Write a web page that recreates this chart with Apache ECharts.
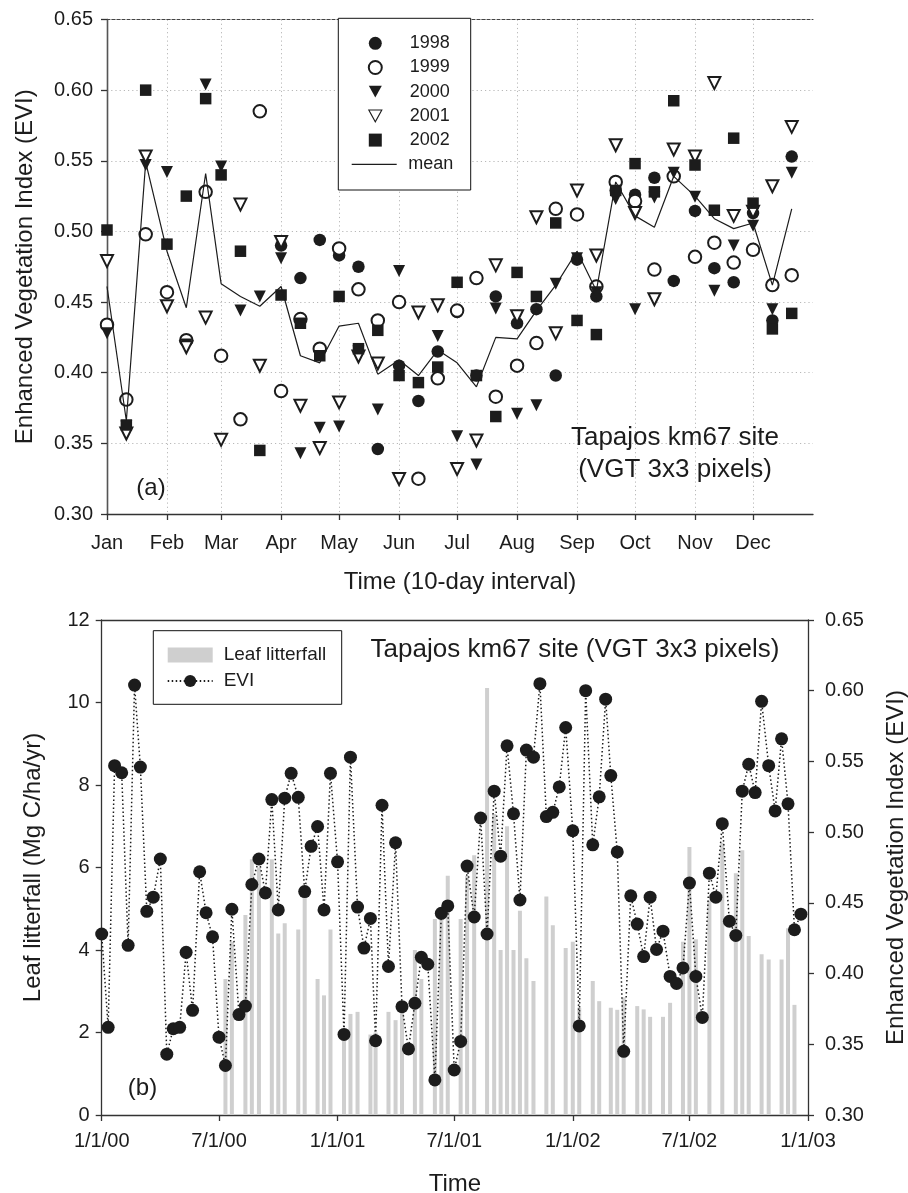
<!DOCTYPE html>
<html><head><meta charset="utf-8">
<script src="https://cdn.jsdelivr.net/npm/echarts@6/dist/echarts.min.js"></script>
<style>html,body{margin:0;padding:0;background:#fff}#c{width:908px;height:1193px}</style>
</head><body><div id="c"></div><script>
// ---------- data ----------
const monthLabels = ['Jan','Feb','Mar','Apr','May','Jun','Jul','Aug','Sep','Oct','Nov','Dec'];
const dekadStarts = ['01-01','01-11','01-21','02-01','02-11','02-21','03-01','03-11','03-21','04-01','04-11','04-21',
  '05-01','05-11','05-21','06-01','06-11','06-21','07-01','07-11','07-21','08-01','08-11','08-21',
  '09-01','09-11','09-21','10-01','10-11','10-21','11-01','11-11','11-21','12-01','12-11','12-21'];
const evi1998 = [null,null,null,null,null,null,null,null,null,0.490,0.467,0.494,0.483,0.475,0.346,0.405,0.380,0.415,
  0.443,0.398,0.454,0.435,0.445,0.398,0.480,0.454,0.529,0.526,0.538,0.465,0.5145,0.474,0.464,0.513,0.437,0.553];
const evi1999 = [0.434,0.381,0.498,0.457,0.423,0.528,0.412,0.367,0.585,0.387,0.438,0.417,0.488,0.459,0.437,0.450,0.325,0.396,
  0.444,0.467,0.383,0.405,0.421,0.516,0.512,0.461,0.535,0.5215,0.473,0.539,0.482,0.492,0.478,0.487,0.462,0.469];
const evi2000 = [0.428,0.362,0.547,0.542,0.420,0.604,0.546,0.444,0.454,0.481,0.343,0.361,0.362,0.415,0.374,0.472,0.443,0.426,
  0.355,0.335,0.4455,0.371,0.377,0.463,0.481,0.457,0.523,0.445,0.524,0.5416,0.5246,0.458,0.490,0.504,0.445,0.5416];
const evi2001 = [0.479,0.357,0.553,0.447,0.418,0.439,0.3525,0.519,0.405,0.4925,0.3766,0.3467,0.379,0.4115,0.4066,0.3248,0.4426,0.4478,
  0.3318,0.352,0.476,0.440,0.510,0.428,0.529,0.483,0.561,0.513,0.452,0.558,0.553,0.605,0.511,0.514,0.532,0.574];
const evi2002 = [0.501,0.363,0.600,0.491,0.525,0.594,0.540,0.486,0.345,0.455,0.435,0.412,0.454,0.417,0.430,0.398,0.393,0.404,
  0.464,0.398,0.369,0.471,0.454,0.506,0.437,0.427,0.529,0.548,0.528,0.5925,0.547,0.515,0.566,0.520,0.431,0.442];
const eviMean = [0.461,0.366,0.549,0.486,0.446,0.541,0.463,0.454,0.447,0.461,0.412,0.407,0.433,0.435,0.399,0.409,0.398,0.416,
  0.407,0.390,0.425,0.424,0.444,0.462,0.486,0.458,0.535,0.511,0.503,0.539,0.525,0.509,0.502,0.506,0.462,0.516];
const yTickLabelsTop = ['0.30','0.35','0.40','0.45','0.50','0.55','0.60','0.65'];
const timeTickLabels = ['1/1/00','7/1/00','1/1/01','7/1/01','1/1/02','7/1/02','1/1/03'];
const litterDates = ['2000-07-11','2000-07-21','2000-08-11','2000-08-21','2000-09-01','2000-09-21','2000-10-01','2000-10-11',
  '2000-11-01','2000-11-11','2000-12-01','2000-12-11','2000-12-21',
  '2001-01-11','2001-01-21','2001-02-01','2001-02-21','2001-03-01','2001-03-21','2001-04-01','2001-04-11','2001-05-01','2001-05-11',
  '2001-06-01','2001-06-11','2001-06-21','2001-07-11','2001-07-21','2001-08-01','2001-08-21','2001-09-01','2001-09-11','2001-09-21',
  '2001-10-01','2001-10-11','2001-10-21','2001-11-01','2001-11-21','2001-12-01','2001-12-21',
  '2002-01-01','2002-01-11','2002-02-01','2002-02-11','2002-03-01','2002-03-11','2002-03-21','2002-04-11','2002-04-21','2002-05-01',
  '2002-05-21','2002-06-01','2002-06-21','2002-07-01','2002-07-11','2002-08-01','2002-08-21','2002-09-11','2002-09-21','2002-10-01',
  '2002-10-21','2002-11-01','2002-11-21','2002-12-01','2002-12-11'];
const litterValues = [3.3,4.2,4.85,6.2,6.0,6.2,4.4,4.65,
  4.5,5.4,3.3,2.9,4.5,
  2.0,2.45,2.5,1.95,2.0,2.5,2.3,2.5,4.0,3.3,
  4.75,5.0,5.8,4.75,5.8,6.3,10.35,7.3,4.0,7.0,
  4.0,4.95,3.8,3.25,5.3,4.6,4.05,
  4.2,2.6,3.25,2.76,2.6,2.55,2.85,2.64,2.56,2.38,
  2.38,2.72,4.2,6.5,4.26,5.2,6.6,5.86,6.42,4.34,
  3.9,3.77,3.77,4.53,2.67];

// ---------- helpers ----------
const FONT = '"Liberation Sans", Arial, Helvetica, sans-serif';
const INK = '#1c1c1c';
const DAY = 86400000;
const doy = md => { const [m, d] = md.split('-').map(Number); return (Date.UTC(2001, m - 1, d) - Date.UTC(2001, 0, 1)) / DAY; };
const dekadDays = dekadStarts.map(doy);
const monthStartDays = monthLabels.map((_, i) => (Date.UTC(2001, i, 1) - Date.UTC(2001, 0, 1)) / DAY);
const pairs = arr => arr.map((v, i) => v == null ? null : [dekadDays[i], v]).filter(Boolean);
const toUTC = s => { const [y, m, d] = s.split('-').map(Number); return Date.UTC(y, m - 1, d); };
const parseTick = s => { const [m, d, y] = s.split('/').map(Number); return Date.UTC(2000 + y, m - 1, d); };
const timeTicks = timeTickLabels.map(parseTick);
const eviYears = [[2000, evi2000], [2001, evi2001], [2002, evi2002]];
const eviSeries = [];
eviYears.forEach(([y, arr]) => arr.forEach((v, i) => eviSeries.push([toUTC(y + '-' + dekadStarts[i]), v])));
const litterData = litterDates.map((d, i) => [toUTC(d), litterValues[i]]);

const axisLineStyle = { color: '#333', width: 1.3 };
const gridDot = { color: '#b8b8b8', width: 1, type: [1.2, 3] };
const labelStyle = { fontFamily: FONT, fontSize: 20, color: INK };
const nameStyle = { fontFamily: FONT, fontSize: 24, color: INK };
const DOWN_TRI = 'path://M0,0L20,0L10,18Z';

const scatterBase = (name, symbol, size, extra) => Object.assign({
  name, type: 'scatter', xAxisIndex: 0, yAxisIndex: 0, symbol, symbolSize: size,
  itemStyle: { color: INK, borderColor: INK, opacity: 1, borderWidth: symbol.indexOf('empty') === 0 ? 1.1 : 0 },
  emphasis: { disabled: true }, animation: false
}, extra);

const option = {
  animation: false,
  backgroundColor: '#fff',
  grid: [
    { left: 107, top: 19.5, width: 706, height: 494.5, outerBoundsMode: 'none', containLabel: false },
    { left: 101.7, top: 620, width: 706.3, height: 495, outerBoundsMode: 'none', containLabel: false }
  ],
  xAxis: [
    { gridIndex: 0, type: 'value', min: 0, max: 365, position: 'bottom',
      axisLine: { lineStyle: axisLineStyle },
      axisTick: { customValues: monthStartDays, length: 6, inside: false, lineStyle: axisLineStyle },
      axisLabel: { customValues: monthStartDays, margin: 19, ...labelStyle,
        formatter: v => monthLabels[monthStartDays.indexOf(Math.round(v))] || '' },
      splitLine: { show: true, lineStyle: gridDot },
      name: 'Time (10-day interval)', nameLocation: 'middle', nameGap: 56, nameTextStyle: nameStyle, nameMoveOverlap: false },
    { gridIndex: 0, type: 'value', min: 0, max: 365, position: 'top',
      axisLine: { show: true, lineStyle: { color: '#444', width: 1, type: [3, 2] } },
      axisTick: { show: false }, axisLabel: { show: false }, splitLine: { show: false } },
    { gridIndex: 1, type: 'value', min: timeTicks[0], max: timeTicks[timeTicks.length - 1], position: 'bottom',
      axisLine: { lineStyle: axisLineStyle },
      axisTick: { customValues: timeTicks, length: 6, lineStyle: axisLineStyle },
      axisLabel: { customValues: timeTicks, margin: 16, ...labelStyle,
        formatter: v => timeTickLabels[timeTicks.indexOf(v)] || '' },
      splitLine: { show: false },
      name: 'Time', nameLocation: 'middle', nameGap: 57, nameTextStyle: nameStyle, nameMoveOverlap: false },
    { gridIndex: 1, type: 'value', min: timeTicks[0], max: timeTicks[timeTicks.length - 1], position: 'top',
      axisLine: { show: true, lineStyle: axisLineStyle },
      axisTick: { show: false }, axisLabel: { show: false }, splitLine: { show: false } }
  ],
  yAxis: [
    { gridIndex: 0, type: 'value', min: 0.30, max: 0.65, interval: 0.05, position: 'left',
      axisLine: { show: true, lineStyle: axisLineStyle },
      axisTick: { show: true, length: 6, lineStyle: axisLineStyle },
      axisLabel: { margin: 14, ...labelStyle, formatter: v => yTickLabelsTop[Math.round((v - 0.30) / 0.05)] },
      splitLine: { show: true, lineStyle: gridDot },
      name: 'Enhanced Vegetation Index (EVI)', nameLocation: 'middle', nameGap: 70, nameTextStyle: nameStyle, nameMoveOverlap: false },
    { gridIndex: 0, type: 'value', min: 0.30, max: 0.65, position: 'right',
      axisLine: { show: true, lineStyle: { color: '#555', width: 1.3 } },
      axisTick: { show: false }, axisLabel: { show: false }, splitLine: { show: false } },
    { gridIndex: 1, type: 'value', min: 0, max: 12, interval: 2, position: 'left',
      axisLine: { show: true, lineStyle: axisLineStyle },
      axisTick: { show: true, length: 6, lineStyle: axisLineStyle },
      axisLabel: { margin: 12, ...labelStyle },
      splitLine: { show: false },
      name: 'Leaf litterfall (Mg C/ha/yr)', nameLocation: 'middle', nameGap: 56, nameTextStyle: nameStyle, nameMoveOverlap: false },
    { gridIndex: 1, type: 'value', min: 0.30, max: 0.65, interval: 0.05, position: 'right',
      axisLine: { show: true, lineStyle: axisLineStyle },
      axisTick: { show: true, length: 6, lineStyle: axisLineStyle },
      axisLabel: { margin: 17, ...labelStyle, formatter: v => yTickLabelsTop[Math.round((v - 0.30) / 0.05)] },
      splitLine: { show: false },
      name: 'Enhanced Vegetation Index (EVI)', nameLocation: 'middle', nameGap: 76, nameTextStyle: nameStyle, nameMoveOverlap: false }
  ],
  legend: [
    { data: ['1998', '1999',
        { name: '2000', icon: DOWN_TRI, itemStyle: { color: INK, borderWidth: 0 } },
        { name: '2001', icon: DOWN_TRI, itemStyle: { color: '#fff', borderColor: INK, borderWidth: 1.1 } },
        '2002'],
      orient: 'vertical', left: 367.8, top: 34.3,
      itemWidth: 13, itemHeight: 13, itemGap: 6.2, padding: 0, z: 20, selectedMode: false,
      textStyle: { fontFamily: FONT, fontSize: 18, color: INK, padding: [0, 0, 0, 23] } },
    { data: [{ name: 'mean', icon: 'rect' }], orient: 'vertical', left: 351.7, top: 155.3, itemWidth: 45, itemHeight: 1.3, padding: 0, z: 20, selectedMode: false,
      itemStyle: { color: INK, borderWidth: 0 },
      textStyle: { fontFamily: FONT, fontSize: 18, color: INK, padding: [0, 0, 0, 6.6] } },
    { data: [{ name: 'Leaf litterfall', icon: 'rect' }, 'EVI'], orient: 'vertical', left: 166.7, top: 645.5,
      itemWidth: 45, itemHeight: 15, itemGap: 7, padding: 0, z: 20, selectedMode: false,
      textStyle: { fontFamily: FONT, fontSize: 19, color: INK, padding: [0, 0, 0, 6] } }
  ],
  graphic: [
    { type: 'rect', z: 15, shape: { x: 338.3, y: 18.3, width: 132.4, height: 171.7 },
      style: { fill: '#fff', stroke: '#111', lineWidth: 1 } },
    { type: 'rect', z: 15, shape: { x: 153.3, y: 630.7, width: 188.4, height: 73.6 },
      style: { fill: '#fff', stroke: '#111', lineWidth: 1 } },
    { type: 'text', z: 16, x: 151, y: 488, style: { text: '(a)', fontFamily: FONT, fontSize: 24, fill: INK, align: 'center', verticalAlign: 'middle' } },
    { type: 'text', z: 16, x: 675, y: 454, style: { text: 'Tapajos km67 site\n(VGT 3x3 pixels)', fontFamily: FONT, fontSize: 26, lineHeight: 32, fill: INK, align: 'center', verticalAlign: 'middle' } },
    { type: 'text', z: 16, x: 575, y: 650, style: { text: 'Tapajos km67 site (VGT 3x3 pixels)', fontFamily: FONT, fontSize: 26, fill: INK, align: 'center', verticalAlign: 'middle' } },
    { type: 'text', z: 16, x: 142.5, y: 1088, style: { text: '(b)', fontFamily: FONT, fontSize: 24, fill: INK, align: 'center', verticalAlign: 'middle' } }
  ],
  series: [
    scatterBase('1998', 'circle', 12.5, { data: pairs(evi1998) }),
    scatterBase('1999', 'emptyCircle', 12.5, { data: pairs(evi1999) }),
    scatterBase('2000', 'triangle', 12, { symbolRotate: 180, data: pairs(evi2000) }),
    scatterBase('2001', 'emptyTriangle', 12, { symbolRotate: 180, data: pairs(evi2001) }),
    scatterBase('2002', 'rect', 11.5, { data: pairs(evi2002) }),
    { name: 'mean', type: 'line', xAxisIndex: 0, yAxisIndex: 0, symbol: 'none', data: pairs(eviMean),
      lineStyle: { color: INK, width: 1.2 }, itemStyle: { color: INK }, emphasis: { disabled: true }, z: 3 },
    { name: 'Leaf litterfall', type: 'bar', xAxisIndex: 2, yAxisIndex: 2, barWidth: 4, data: litterData,
      itemStyle: { color: '#cfcfcf' }, emphasis: { disabled: true }, z: 1 },
    { name: 'EVI', type: 'line', xAxisIndex: 2, yAxisIndex: 3, data: eviSeries, symbol: 'circle', symbolSize: 13, showSymbol: true,
      lineStyle: { color: INK, width: 1.5, type: [1.5, 2.5] }, itemStyle: { color: INK }, emphasis: { disabled: true }, z: 3 }
  ]
};
const chart = echarts.init(document.getElementById('c'), null, { renderer: 'canvas', width: 908, height: 1193 });
chart.setOption(option);
</script></body></html>
